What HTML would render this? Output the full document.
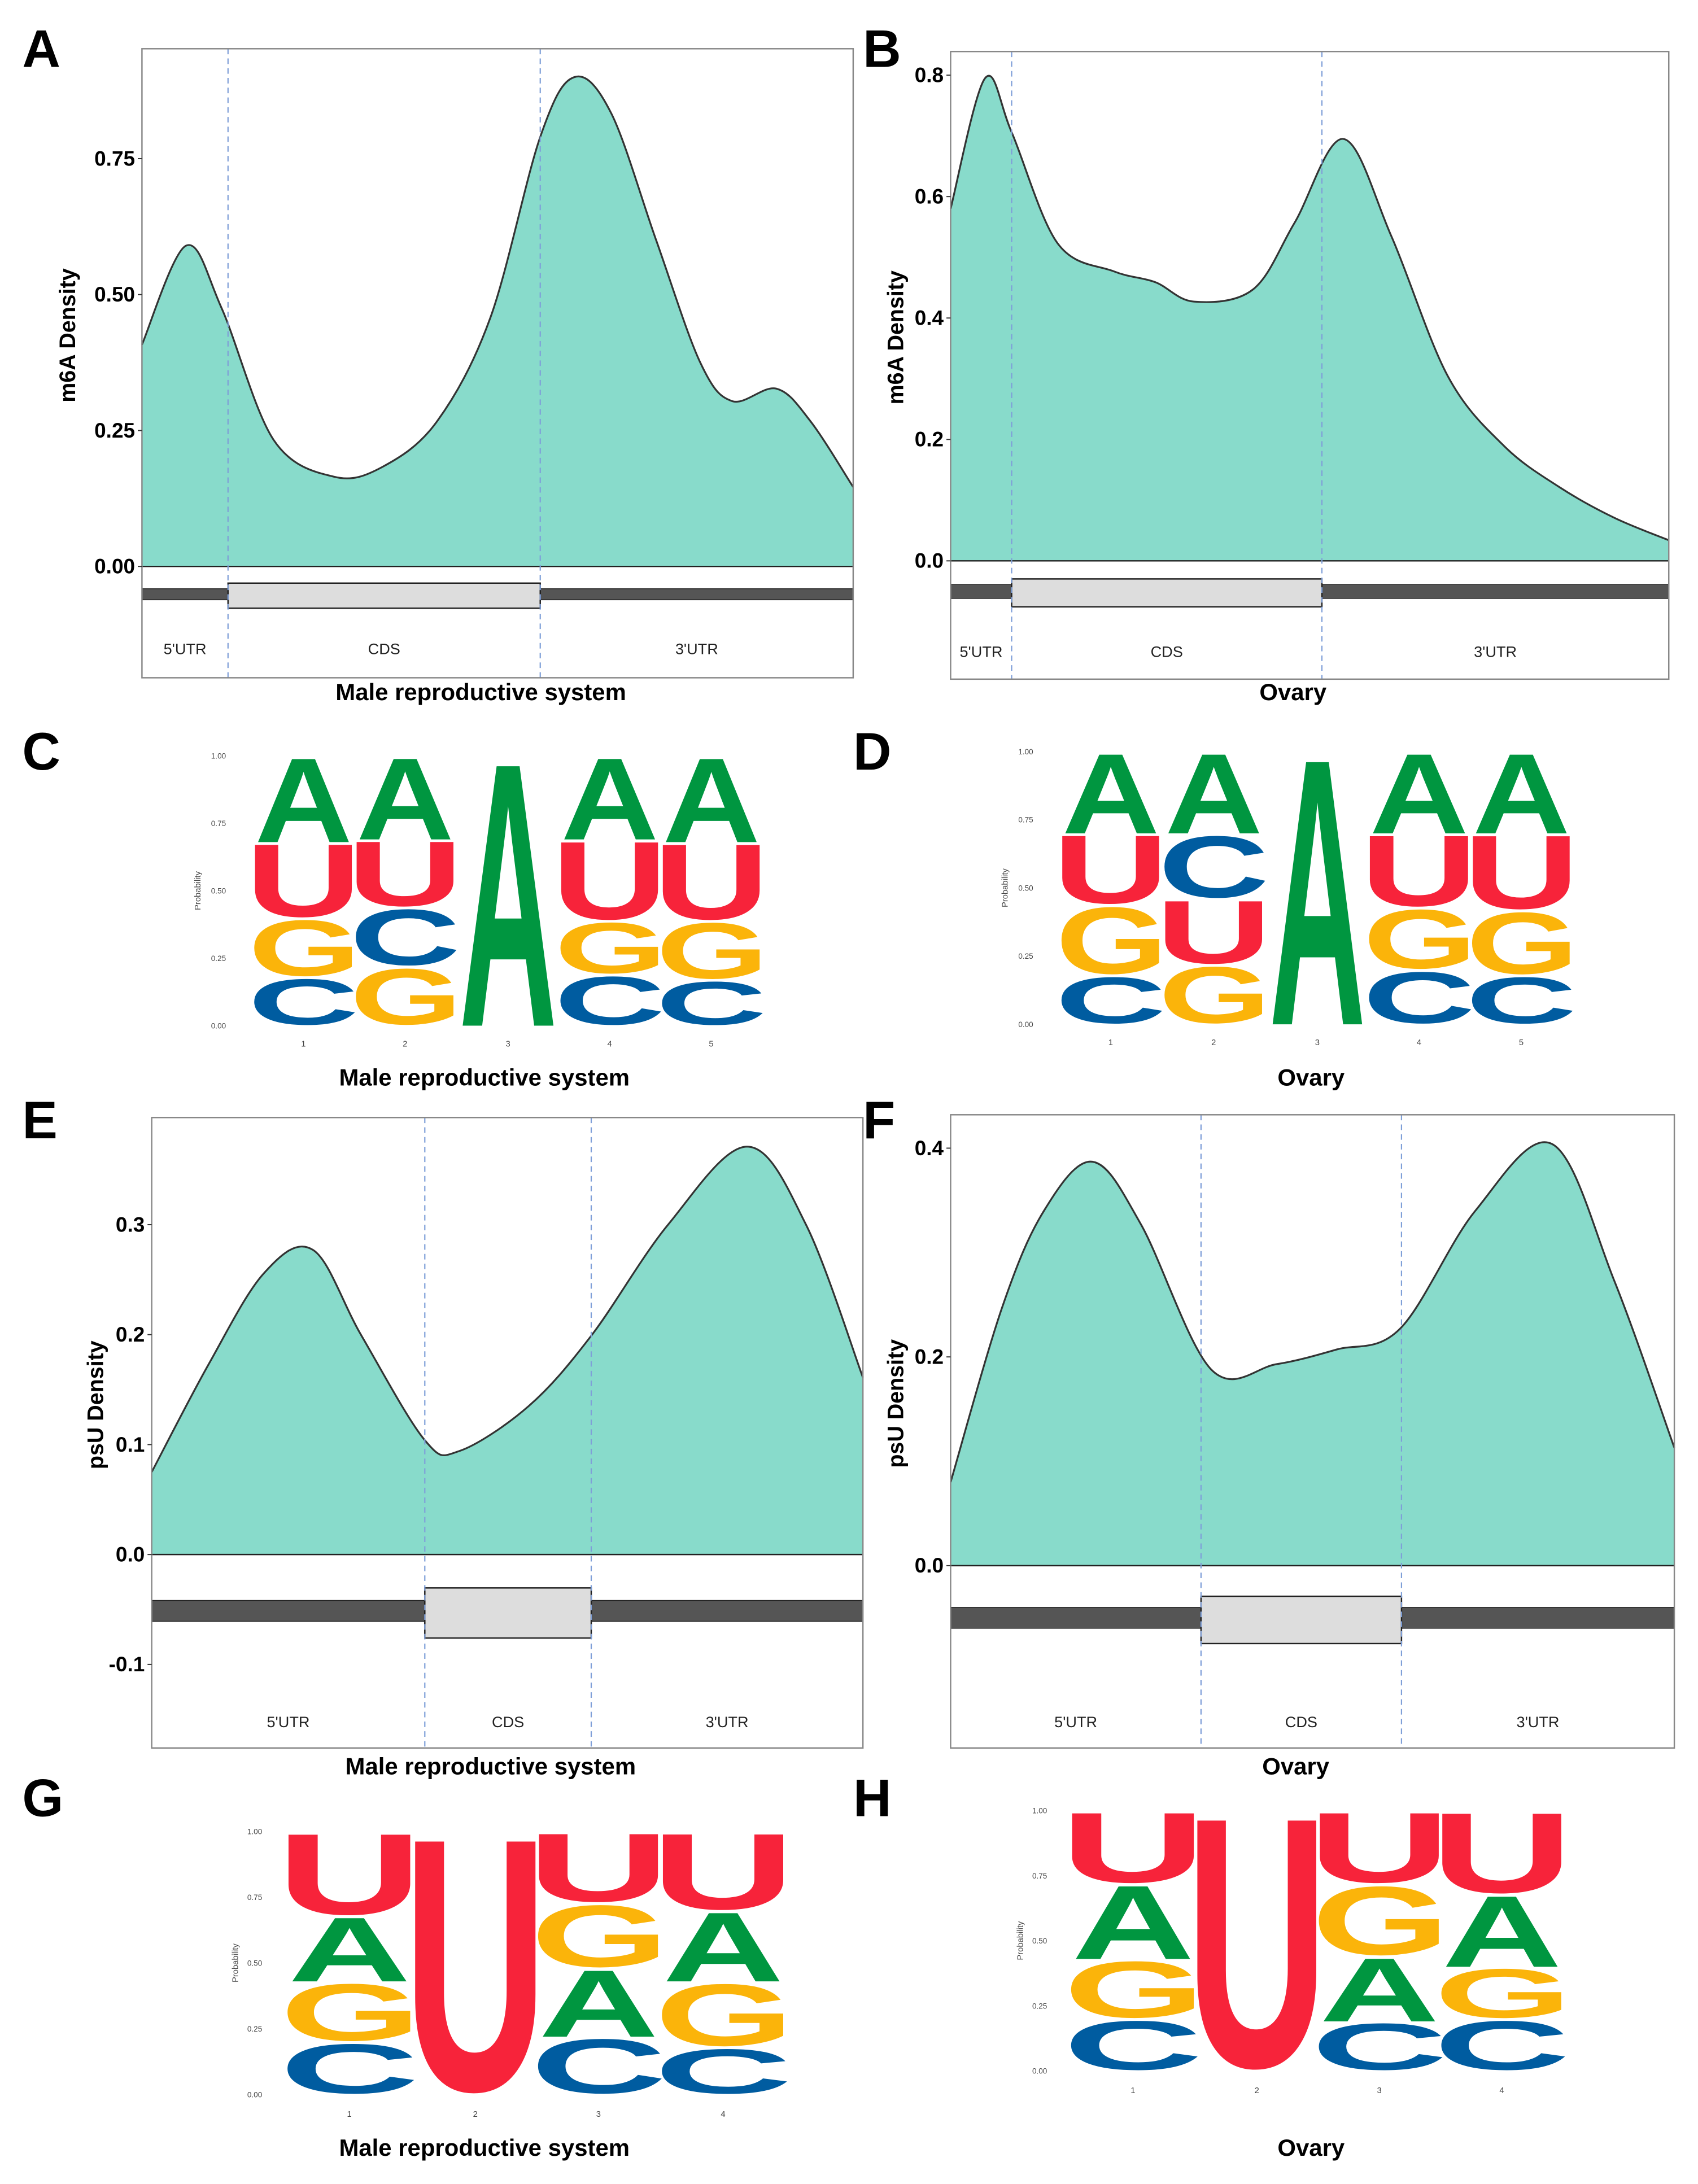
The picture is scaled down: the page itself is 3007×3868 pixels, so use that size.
<!DOCTYPE html>
<html><head><meta charset="utf-8"><style>
html,body{margin:0;padding:0;background:#fff}
svg{display:block}
text{font-family:"Liberation Sans",Arial,sans-serif}
</style></head><body>
<svg id="fig" xmlns="http://www.w3.org/2000/svg" width="3007" height="3868" viewBox="0 0 1220 1569.3">
<rect width="1220" height="1570" fill="#fff"/>
</svg>
<script>
// ---------- data ----------
const aX=[0,0.062,0.112,0.185,0.27,0.338,0.415,0.49,0.56,0.608,0.66,0.723,0.785,0.83,0.892,0.94,1];
const aY=[0.408,0.59,0.475,0.233,0.165,0.183,0.267,0.458,0.79,0.90,0.833,0.6,0.375,0.304,0.327,0.267,0.146];
const bX=[0,0.048,0.085,0.149,0.227,0.285,0.339,0.421,0.479,0.547,0.614,0.692,0.77,0.847,0.924,1];
const bY=[0.58,0.795,0.706,0.523,0.477,0.459,0.427,0.447,0.557,0.695,0.534,0.305,0.19,0.122,0.071,0.034];
const eX=[0,0.08,0.158,0.227,0.295,0.384,0.432,0.53,0.618,0.726,0.837,0.92,1];
const eY=[0.075,0.173,0.256,0.277,0.199,0.104,0.094,0.135,0.199,0.3,0.371,0.3,0.161];
const fX=[0,0.071,0.129,0.196,0.263,0.36,0.45,0.533,0.621,0.725,0.831,0.917,1];
const fY=[0.08,0.247,0.34,0.387,0.327,0.188,0.193,0.207,0.227,0.34,0.404,0.273,0.113];
const ticksA=[0,0.25,0.5,0.75], ticksALab=["0.00","0.25","0.50","0.75"];
const ticksB=[0,0.2,0.4,0.6,0.8], ticksBLab=["0.0","0.2","0.4","0.6","0.8"];
const ticksE=[-0.1,0,0.1,0.2,0.3], ticksELab=["-0.1","0.0","0.1","0.2","0.3"];
const ticksF=[0,0.2,0.4], ticksFLab=["0.0","0.2","0.4"];
const logoC=[[["C",.18],["G",.22],["U",.28],["A",.32]],[["G",.22],["C",.22],["U",.25],["A",.31]],[["A",1]],[["C",.19],["G",.20],["U",.30],["A",.31]],[["C",.17],["G",.22],["U",.29],["A",.32]]];
const logoD=[[["C",.18],["G",.26],["U",.26],["A",.30]],[["G",.22],["U",.24],["C",.24],["A",.30]],[["A",1]],[["C",.20],["G",.23],["U",.27],["A",.30]],[["C",.18],["G",.24],["U",.28],["A",.30]]];
const logoG=[[["C",.20],["G",.23],["A",.25],["U",.32]],[["U",1]],[["C",.22],["A",.26],["G",.25],["U",.27]],[["C",.18],["G",.25],["A",.27],["U",.30]]];
const logoH=[[["C",.20],["G",.23],["A",.29],["U",.28]],[["U",1]],[["C",.19],["A",.25],["G",.28],["U",.28]],[["C",.20],["G",.20],["A",.28],["U",.32]]];

const NS="http://www.w3.org/2000/svg";
const svg=document.getElementById('fig');
function el(tag,attrs,parent){const e=document.createElementNS(NS,tag);for(const k in attrs)e.setAttribute(k,attrs[k]);(parent||svg).appendChild(e);return e;}
function txt(s,attrs,parent){const e=el('text',attrs,parent);e.textContent=s;return e;}
function smooth(pts){let d="M"+pts[0][0]+","+pts[0][1];for(let i=0;i<pts.length-1;i++){const p0=pts[i-1]||pts[i],p1=pts[i],p2=pts[i+1],p3=pts[i+2]||p2;const c1=[p1[0]+(p2[0]-p0[0])/6,p1[1]+(p2[1]-p0[1])/6],c2=[p2[0]-(p3[0]-p1[0])/6,p2[1]-(p3[1]-p1[1])/6];d+=" C"+c1[0]+","+c1[1]+" "+c2[0]+","+c2[1]+" "+p2[0]+","+p2[1];}return d;}

function density(o){
  const g=el('g',{});
  
  
  const sx=v=>o.L+v*(o.R-o.L);
  const sy=v=>o.y0-v*(o.y0-o.yRef)/o.ref;
  const pts=o.xs.map((x,i)=>[sx(x),sy(o.ys[i])]);
  const d=smooth(pts);
  const area=el('path',{d:d+" L"+o.R+","+o.y0+" L"+o.L+","+o.y0+" Z",fill:"#88dbcb",stroke:"none"},g);
  
  
  el('line',{x1:o.L,x2:o.R,y1:o.y0,y2:o.y0,stroke:"#222","stroke-width":1},g);
  const line=el('path',{d:d,fill:"none",stroke:"#333","stroke-width":1.3},g);
  
  
  el('rect',{x:o.L,y:o.bar[0],width:o.R-o.L,height:o.bar[1]-o.bar[0],fill:"#555",stroke:"#222","stroke-width":0.6},g);
  const cds=el('rect',{x:sx(o.d1),y:o.box[0],width:sx(o.d2)-sx(o.d1),height:o.box[1]-o.box[0],fill:"#ddd",stroke:"#222","stroke-width":1},g);
  
  
  [o.d1,o.d2].forEach(dv=>el('line',{x1:sx(dv),x2:sx(dv),y1:o.T,y2:o.B,stroke:"#7f9fd8","stroke-width":0.9,"stroke-dasharray":"4,3"},g));
  el('rect',{x:o.L,y:o.T,width:o.R-o.L,height:o.B-o.T,fill:"none",stroke:"#888","stroke-width":1},g);
  const lbs=["5'UTR","CDS","3'UTR"],lx=[(o.L+sx(o.d1))/2,(sx(o.d1)+sx(o.d2))/2,(sx(o.d2)+o.R)/2];
  lbs.forEach((s,i)=>{const t=txt(s,{x:lx[i],y:o.lab,"font-size":11,"text-anchor":"middle",fill:"#222"},g);});
  o.ticks.forEach((v,i)=>{const y=sy(v);el('line',{x1:o.L-3,x2:o.L,y1:y,y2:y,stroke:"#333","stroke-width":0.8},g);
    const t=txt(o.tickLab[i],{x:o.L-5,y:y+5,"font-size":15,"font-weight":"bold","text-anchor":"end",fill:"#000"},g);
    });
  const yt=txt(o.ytitle,{x:0,y:0,"font-size":16,"font-weight":"bold","text-anchor":"middle",transform:"translate("+o.ytx+","+((o.T+o.B)/2-20)+") rotate(-90)"},g);
  
  const xt=txt(o.xtitle,{x:(o.L+o.R)/2-12,y:o.xty,"font-size":17,"font-weight":"bold","text-anchor":"middle"},g);
  
}

const COL={A:"#009640",U:"#f7233a",G:"#fbb40a",C:"#005ca0"};
// glyph ink boxes (font units /100): [xmin,xmax,ymin,ymax]
const INK={A:[0,72,0,71.6],U:[5.8,66.3,-1.3,71.6],C:[4.4,67.7,-1.9,72.8],G:[4.4,71.8,-1.9,72.8]};
function logo(o){
  const g=el('g',{});
  
  
  const sy=v=>o.y0-v*(o.y0-o.y1);
  o.data.forEach((col,ci)=>{
    const [x0,x1]=o.cols[ci];let acc=0;
    col.forEach(([L,p])=>{
      const yb=sy(acc),yt=sy(acc+p);acc+=p;
      const w=x1-x0,h=yb-yt,k=INK[L];
      const sxv=w/(k[1]-k[0]),syv=h/(k[3]-k[2]);
      const tx=x0-k[0]*sxv, ty=yb+k[2]*syv;
      const t=txt(L,{x:0,y:0,"font-size":100,"font-weight":"bold",fill:COL[L],transform:"translate("+tx+","+ty+") scale("+sxv+","+syv+")"},g);
      
      
    });
    const n=txt(String(ci+1),{x:(x0+x1)/2,y:o.numY,"font-size":6,"text-anchor":"middle",fill:"#444"},g);
    
  });
  ["0.00","0.25","0.50","0.75","1.00"].forEach((s,i)=>{const t=txt(s,{x:o.tx,y:sy(i*0.25)+2,"font-size":5.5,"text-anchor":"middle",fill:"#444"},g);});
  const p=txt("Probability",{x:0,y:0,"font-size":6,"text-anchor":"middle",fill:"#444",transform:"translate("+o.px+","+sy(0.5)+") rotate(-90)"},g);
  
  const xt=txt(o.xtitle,{x:o.xtx,y:o.xty,"font-size":17,"font-weight":"bold","text-anchor":"middle"},g);
  
}

density({name:"panel-a-m6a-density",xs:aX,ys:aY,L:102,R:613,T:35,B:487,y0:407,yRef:114,ref:0.75,d1:0.121,d2:0.56,bar:[423,431],box:[419,437],lab:470,ticks:ticksA,tickLab:ticksALab,ytitle:"m6A Density",ytx:54,xtitle:"Male reproductive system",xty:503});
density({name:"panel-b-m6a-density",xs:bX,ys:bY,L:683,R:1199,T:37,B:488,y0:403,yRef:54,ref:0.8,d1:0.085,d2:0.517,bar:[420,430],box:[416,436],lab:472,ticks:ticksB,tickLab:ticksBLab,ytitle:"m6A Density",ytx:649,xtitle:"Ovary",xty:503});
density({name:"panel-e-psu-density",xs:eX,ys:eY,L:109,R:620,T:803,B:1256,y0:1117,yRef:880,ref:0.3,d1:0.384,d2:0.618,bar:[1150,1165],box:[1141,1177],lab:1241,ticks:ticksE,tickLab:ticksELab,ytitle:"psU Density",ytx:74,xtitle:"Male reproductive system",xty:1275});
density({name:"panel-f-psu-density",xs:fX,ys:fY,L:683,R:1203,T:801,B:1256,y0:1125,yRef:825,ref:0.4,d1:0.346,d2:0.623,bar:[1155,1170],box:[1147,1181],lab:1241,ticks:ticksF,tickLab:ticksFLab,ytitle:"psU Density",ytx:649,xtitle:"Ovary",xty:1275});

logo({name:"panel-c-motif-logo",data:logoC,cols:[[183,253],[256,326],[330,400],[403,473],[476,546]],y0:737,y1:543,numY:752,tx:157,px:144,xtitle:"Male reproductive system",xtx:348,xty:780});
logo({name:"panel-d-motif-logo",data:logoD,cols:[[763,833],[837,907],[912,981],[984,1055],[1058,1128]],y0:736,y1:540,numY:751,tx:737,px:724,xtitle:"Ovary",xtx:942,xty:780});
logo({name:"panel-g-motif-logo",data:logoG,cols:[[207,295],[298,385],[387,473],[476,563]],y0:1505,y1:1316,numY:1521,tx:183,px:171,xtitle:"Male reproductive system",xtx:348,xty:1549});
logo({name:"panel-h-motif-logo",data:logoH,cols:[[770,858],[860,946],[948,1034],[1036,1122]],y0:1488,y1:1301,numY:1504,tx:747,px:735,xtitle:"Ovary",xtx:942,xty:1549});

const panelLetters=[["A",16,48],["B",620,48],["C",16,553],["D",613,553],["E",16,818],["F",620,818],["G",16,1305],["H",613,1305]];
panelLetters.forEach(([s,x,y])=>{const t=txt(s,{x:x,y:y,"font-size":38,"font-weight":"bold",fill:"#000"});
  
  });
</script>
</body></html>
